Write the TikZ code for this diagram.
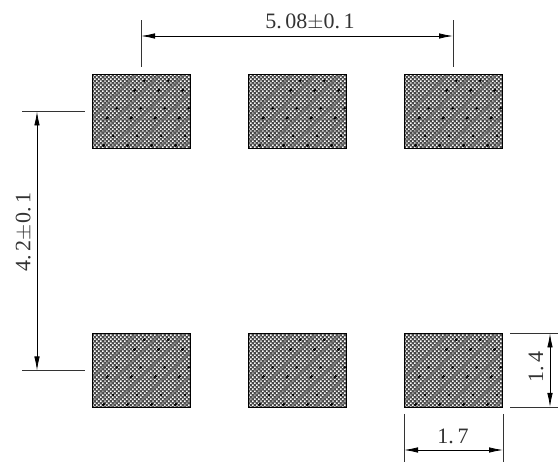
\documentclass[tikz,border=0pt]{standalone}
\usepackage{fontspec}
\setmainfont{Liberation Serif}
\usetikzlibrary{arrows.meta,patterns}
\pgfdeclarepatternformonly{padtex}{\pgfqpoint{-0.2pt}{-0.2pt}}{\pgfqpoint{4.2pt}{4.2pt}}{\pgfqpoint{4pt}{4pt}}{
  \pgfpathrectangle{\pgfqpoint{0pt}{0pt}}{\pgfqpoint{1.5pt}{1.5pt}}
  \pgfpathrectangle{\pgfqpoint{2pt}{2pt}}{\pgfqpoint{1.5pt}{1.5pt}}
  \pgfusepath{fill}}
\tikzset{
  padbox/.style={draw=black,line width=0.9pt,fill=black!72,minimum width=98pt,minimum height=74pt,inner sep=0pt,outer sep=0pt,anchor=north west},
  padtexture/.style={pattern=padtex,pattern color=white},
  band/.style={draw=black!60,line width=2.6pt,opacity=0.6},
  speck/.style={draw=black,line width=2pt,dash pattern=on 3pt off 11pt on 2pt off 23pt},
  gridl/.style={draw=black!60,line width=1.2pt,opacity=0.5},
  extline/.style={draw=black!80,line width=0.8pt},
  dimline/.style={draw=black,line width=0.8pt,{Latex[length=14pt,width=5.5pt]}-{Latex[length=14pt,width=5.5pt]}},
  dimlabel/.style={text=black!80,font=\fontsize{22pt}{22pt}\selectfont,inner sep=0pt}
}
\newcommand{\padtex}[1]{%
  \begin{scope}
    \clip (#1.north west) rectangle (#1.south east);
    \fill[padtexture] (#1.north west) rectangle (#1.south east);
    \foreach \e in {9,21,33,45,57,69}{
      \draw[gridl] ([yshift=-\e pt]#1.north west) -- ++(98pt,0pt);
    }
    \foreach \e in {12,36,60,84}{
      \draw[gridl] ([xshift=\e pt]#1.north west) -- ++(0pt,-74pt);
    }
    \foreach \d in {0,24,48,72,96,120}{
      \draw[band] ([xshift=\d pt-30pt]#1.south west) -- ++(80pt,80pt);
      \draw[speck] ([xshift=\d pt-14pt,yshift=2pt]#1.south west) -- ++(80pt,80pt);
    }
  \end{scope}
  \draw[line width=0.9pt,black] (#1.north west) rectangle (#1.south east);
}
\begin{document}
\begin{tikzpicture}[x=1pt,y=-1pt]
\useasboundingbox (0,0) rectangle (558,462);
\node[padbox] (p1) at (92.5,74.5) {};
\node[padbox] (p2) at (248.5,74.5) {};
\node[padbox] (p3) at (404.5,74.5) {};
\node[padbox] (p4) at (92.5,333.5) {};
\node[padbox] (p5) at (248.5,333.5) {};
\node[padbox] (p6) at (404.5,333.5) {};
\padtex{p1}\padtex{p2}\padtex{p3}\padtex{p4}\padtex{p5}\padtex{p6}
% top dimension
\coordinate (ta) at (141,20.5);
\coordinate (tb) at (141,67.5);
\coordinate (tc) at (453,20.5);
\coordinate (td) at (453,67.5);
\coordinate (tl) at (141,36);
\coordinate (tr) at (453,36);
\draw[extline] (ta) -- (tb);
\draw[extline] (tc) -- (td);
\draw[dimline] (tl) -- (tr);
\node[dimlabel] (tt) at (310,22) {5.\,08$\pm$0.\,1};
% left dimension
\coordinate (la) at (22,111.5);
\coordinate (lb) at (85,111.5);
\coordinate (lc) at (22,370.5);
\coordinate (ld) at (85,370.5);
\coordinate (lt) at (37,111.5);
\coordinate (lu) at (37,370.5);
\draw[extline] (la) -- (lb);
\draw[extline] (lc) -- (ld);
\draw[dimline] (lt) -- (lu);
\node[dimlabel,rotate=90] (lbl) at (24,232) {4.\,2$\pm$0.\,1};
% right dimension
\coordinate (ra) at (510,333.5);
\coordinate (rb) at (558,333.5);
\coordinate (rc) at (510,407);
\coordinate (rd) at (558,407);
\coordinate (rt) at (550,333.5);
\coordinate (ru) at (550,407);
\draw[extline] (ra) -- (rb);
\draw[extline] (rc) -- (rd);
\draw[dimline] (rt) -- (ru);
\node[dimlabel,rotate=90] (rlbl) at (536,367) {1.\,4};
% bottom dimension
\coordinate (ba) at (404,414);
\coordinate (bb) at (404,462);
\coordinate (bc) at (503,414);
\coordinate (bd) at (503,462);
\coordinate (bl) at (404,450);
\coordinate (br) at (503,450);
\draw[extline] (ba) -- (bb);
\draw[extline] (bc) -- (bd);
\draw[dimline] (bl) -- (br);
\node[dimlabel] (blbl) at (453,436) {1.\,7};
\end{tikzpicture}
\end{document}
